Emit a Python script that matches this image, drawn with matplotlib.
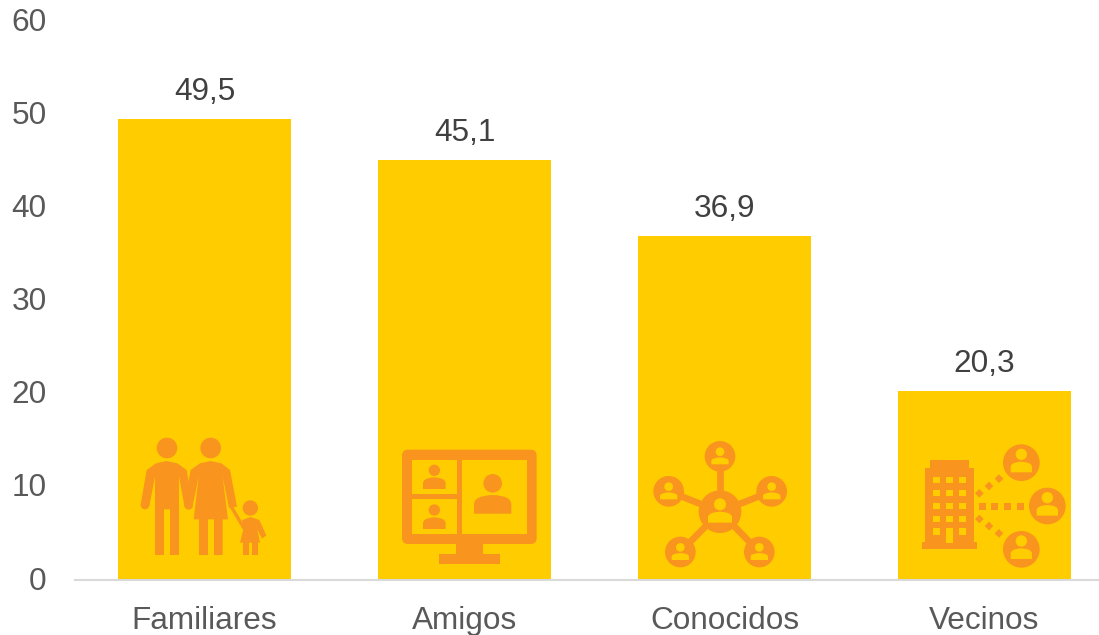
import matplotlib
matplotlib.use('Agg')
import matplotlib.pyplot as plt
from matplotlib.patches import Circle, PathPatch, Polygon, Rectangle, FancyBboxPatch
from matplotlib.path import Path
from matplotlib.transforms import Affine2D, ScaledTranslation

plt.rcParams['font.family'] = ['Liberation Sans', 'DejaVu Sans']

categories = ['Familiares', 'Amigos', 'Conocidos', 'Vecinos']
values = [49.5, 45.1, 36.9, 20.3]
yticks = [0, 10, 20, 30, 40, 50, 60]

YELLOW = '#FFCC00'
ORANGE = '#F9951F'
TEXT = '#404040'
TICK = '#595959'

fig = plt.figure(figsize=(10.99, 6.35), dpi=100)
ax = fig.add_axes([74.5 / 1099, 55 / 635, 1040 / 1099, 559 / 635])

bars = ax.bar(range(len(values)), values, width=0.668, color=YELLOW)
ax.set_xlim(-0.5, 3.5)
ax.set_ylim(0, 60)
ax.set_yticks(yticks)
ax.set_xticks(range(len(categories)))
ax.set_xticklabels(categories)
ax.tick_params(axis='y', length=0, pad=20, labelsize=22.7, labelcolor=TICK)
ax.tick_params(axis='x', length=0, pad=18.5, labelsize=22.7, labelcolor=TICK)
for side in ['top', 'left', 'right']:
    ax.spines[side].set_visible(False)
ax.spines['bottom'].set_color('#D9D9D9')
ax.spines['bottom'].set_linewidth(1.5)
ax.bar_label(bars, labels=[str(v).replace('.', ',') for v in values],
             padding=8.5, fontsize=22.7, color=TEXT)

# y labels sit a little higher than the tick position
for lab in ax.get_yticklabels():
    lab.set_transform(lab.get_transform() + ScaledTranslation(0, 2 / 100, fig.dpi_scale_trans))

# overlay in pixel coordinates for the icons
ov = fig.add_axes([0, 0, 1, 1])
ov.set_xlim(0, 1099)
ov.set_ylim(635, 0)
ov.axis('off')
ov.patch.set_alpha(0)


# icons are sketched in 3x units, tr moves them into place
def place(x0, y0):
    return Affine2D().scale(1 / 3).translate(x0, y0) + ov.transData


def circle(tr, x, y, r, color=ORANGE):
    ov.add_patch(Circle((x, y), r, fc=color, ec='none', transform=tr))


def poly(tr, pts, color=ORANGE):
    ov.add_patch(Polygon(pts, closed=True, fc=color, ec='none', transform=tr))


def rect(tr, x1, y1, x2, y2, color=ORANGE):
    ov.add_patch(Rectangle((x1, y1), x2 - x1, y2 - y1, fc=color, ec='none', transform=tr))


def line(tr, x1, y1, x2, y2, w):
    ov.plot([x1, x2], [y1, y2], color=ORANGE, lw=w / 3 * 0.72, transform=tr,
            solid_capstyle='round', zorder=0.5)


# head and shoulders of a small person
def bust(tr, cx, cy, r, hw, top, bottom, color):
    circle(tr, cx, cy, r, color)
    mid = top + (bottom - top) * 0.5
    verts = [(cx - hw, bottom), (cx - hw, mid), (cx - hw, top + 2), (cx, top),
             (cx + hw, top + 2), (cx + hw, mid), (cx + hw, bottom), (cx - hw, bottom)]
    codes = [Path.MOVETO, Path.LINETO, Path.CURVE3, Path.CURVE3,
             Path.CURVE3, Path.CURVE3, Path.LINETO, Path.CLOSEPOLY]
    ov.add_patch(PathPatch(Path(verts, codes), fc=color, ec='none', transform=tr))


def family():
    tr = place(120, 420)
    circle(tr, 141, 84, 31)
    circle(tr, 272, 84, 31)
    circle(tr, 391, 264, 23)
    # man
    poly(tr, [(80, 150), (108, 130), (140, 123), (172, 130), (200, 150), (206, 185), (218, 258),
              (194, 262), (177, 170), (177, 405), (150, 405), (150, 268), (132, 268), (132, 405),
              (105, 405), (105, 170), (88, 258), (62, 254)])
    circle(tr, 75, 255, 13)
    circle(tr, 206, 256, 13)
    # woman
    poly(tr, [(212, 150), (240, 130), (272, 123), (304, 130), (330, 150), (351, 260), (327, 264),
              (308, 170), (324, 298), (308, 298), (308, 405), (282, 405), (282, 298), (264, 298),
              (264, 405), (237, 405), (237, 298), (221, 298), (236, 170), (218, 258), (204, 190)])
    # child
    line(tr, 335, 262, 372, 325, 10)
    poly(tr, [(366, 300), (392, 291), (418, 300), (439, 346), (426, 356), (412, 328), (420, 368),
              (414, 368), (414, 405), (396, 405), (396, 368), (387, 368), (387, 405), (369, 405),
              (369, 368), (360, 368), (370, 328)])


def monitor():
    tr = place(120, 420)
    ov.add_patch(FancyBboxPatch((864, 107), 368, 247, boxstyle='round,pad=18,rounding_size=18',
                                fc=ORANGE, ec='none', transform=tr))
    rect(tr, 876, 120, 1010, 222, YELLOW)
    rect(tr, 876, 238, 1010, 342, YELLOW)
    rect(tr, 1026, 120, 1220, 342, YELLOW)
    rect(tr, 1008, 372, 1088, 402)
    rect(tr, 957, 402, 1140, 432)
    bust(tr, 943, 151, 17, 34, 172, 207, ORANGE)
    bust(tr, 943, 270, 17, 34, 292, 327, ORANGE)
    bust(tr, 1118, 190, 28, 56, 225, 281, ORANGE)


def network():
    tr = place(640, 420)
    hubs = [(240, 109), (86, 214), (395, 214), (121, 396), (358, 396)]
    for x, y in hubs:
        line(tr, 240, 275, x, y, 20)
        circle(tr, x, y, 46)
        bust(tr, x, y - 14, 13, 26, y + 3, y + 24, YELLOW)
    circle(tr, 240, 275, 64)
    bust(tr, 240, 253, 18, 36, 275, 308, YELLOW)


def building():
    tr = place(640, 420)
    rect(tr, 870, 120, 988, 145)
    rect(tr, 856, 145, 1002, 367)
    rect(tr, 846, 367, 1011, 387)
    for y in [180, 219, 258, 297, 335]:
        for x in [890, 929, 968]:
            if y == 335 and x == 929:
                rect(tr, 919, 325, 939, 368, YELLOW)
            else:
                rect(tr, x - 10, y - 10, x + 10, y + 10, YELLOW)
    for x in [1027, 1063, 1102, 1142]:
        rect(tr, x - 10, 249, x + 10, 269)
    for x, y in [(1018, 220), (1047, 198), (1077, 176), (1018, 297), (1047, 318), (1077, 340)]:
        poly(tr, [(x - 13, y), (x, y - 13), (x + 13, y), (x, y + 13)])
    for x, y in [(1144, 128), (1222, 258), (1144, 388)]:
        circle(tr, x, y, 55)
        bust(tr, x, y - 25, 17, 32, y - 3, y + 29, YELLOW)


family()
monitor()
network()
building()

fig.savefig('out.png', dpi=100)
